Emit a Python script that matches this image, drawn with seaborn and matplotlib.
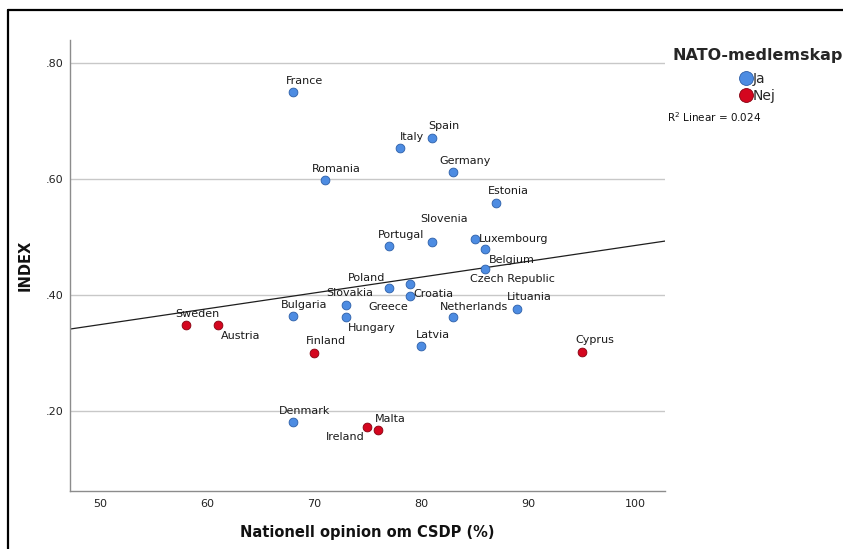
import matplotlib
matplotlib.use("Agg")
import matplotlib.pyplot as plt
from matplotlib.lines import Line2D
from matplotlib.ticker import FixedLocator, FuncFormatter
import numpy as np
import pandas as pd
import seaborn as sns

# Country values: public opinion on CSDP (%) and the index, by NATO membership
countries = ["France", "Italy", "Spain", "Germany", "Romania", "Estonia",
             "Slovenia", "Portugal", "Luxembourg", "Belgium", "Czech Republic",
             "Poland", "Greece", "Croatia", "Slovakia", "Hungary", "Netherlands",
             "Lituania", "Bulgaria", "Latvia", "Denmark",
             "Sweden", "Austria", "Finland", "Cyprus", "Ireland", "Malta"]
opinion = [68, 78, 81, 83, 71, 87,
           81, 77, 85, 86, 86,
           77, 79, 79, 73, 73, 83,
           89, 68, 80, 68,
           58, 61, 70, 95, 75, 76]
index_values = [0.750, 0.653, 0.671, 0.612, 0.598, 0.559,
                0.491, 0.484, 0.497, 0.479, 0.445,
                0.413, 0.419, 0.399, 0.382, 0.363, 0.363,
                0.376, 0.364, 0.312, 0.181,
                0.348, 0.348, 0.300, 0.301, 0.173, 0.167]
nato = ["Ja"] * 21 + ["Nej"] * 6

# Linear fit over all countries (intercept, slope) and its R²
fit_intercept = 0.2125
fit_slope = 0.00273
r2_label = "0.024"

x_ticks = [50, 60, 70, 80, 90, 100]
y_ticks = [0.20, 0.40, 0.60, 0.80]

df = pd.DataFrame({"country": countries, "opinion": opinion,
                   "INDEX": index_values, "NATO": nato})

# Label placement (pixels, right/down) relative to each point
default_offset = (12, -11)
label_offsets = {
    "Slovenia": (12.5, -23), "Luxembourg": (39, 0), "Belgium": (26.5, 11),
    "Czech Republic": (27, 10), "Poland": (-22, -10), "Greece": (-22, 23),
    "Croatia": (23, -2), "Slovakia": (4, -12), "Hungary": (26, 11),
    "Netherlands": (21, -10), "Austria": (22.5, 11), "Ireland": (-22.5, 10),
    "Spain": (12, -12), "Estonia": (12, -12), "Lituania": (12, -12),
    "Finland": (12, -12), "Cyprus": (13, -12),
}

palette = {"Ja": "#4d8ce2", "Nej": "#d4061f"}
edges = {"Ja": "#2c5ea8", "Nej": "#85000f"}

sns.set_style("white")
plt.rcParams["font.family"] = ["DejaVu Sans"]

W, H = 843, 549
fig = plt.figure(figsize=(W / 100, H / 100), dpi=100)
left, right, top, bottom = 70, 665, 40, 491
ax = fig.add_axes([left / W, 1 - bottom / H, (right - left) / W, (bottom - top) / H])

xlim = (47.2, 102.8)
ylim = (0.062, 0.840)

# Fit line across the whole plotting area
ax.axline((0, fit_intercept), slope=fit_slope, color="#1e1e1e", lw=0.9,
          zorder=2)

for grp in ["Ja", "Nej"]:
    sub = df[df["NATO"] == grp]
    sns.scatterplot(data=sub, x="opinion", y="INDEX", ax=ax, color=palette[grp],
                    edgecolor=edges[grp], linewidth=0.6, s=40, zorder=3,
                    legend=False)

for _, row in df.iterrows():
    dx, dy = label_offsets.get(row["country"], default_offset)
    ax.annotate(row["country"], (row["opinion"], row["INDEX"]),
                xytext=(dx, -dy), textcoords="offset pixels",
                ha="center", va="center", fontsize=8, color="#1a1a1a",
                zorder=4)

ax.set_xlim(*xlim)
ax.set_ylim(*ylim)

ax.xaxis.set_major_locator(FixedLocator(x_ticks))
ax.yaxis.set_major_locator(FixedLocator(y_ticks))
ax.yaxis.set_major_formatter(FuncFormatter(lambda v, p: f"{v:.2f}".lstrip("0")))
ax.tick_params(axis="both", length=0, labelsize=8, colors="#222222")
ax.tick_params(axis="x", pad=6)
ax.tick_params(axis="y", pad=5)

ax.yaxis.grid(True, color="#c8c8c8", lw=1)
ax.xaxis.grid(False)
ax.set_axisbelow(True)
for side in ["top", "right"]:
    ax.spines[side].set_visible(False)
for side in ["left", "bottom"]:
    ax.spines[side].set_color("#8c8c8c")
    ax.spines[side].set_linewidth(1)

ax.set_xlabel("Nationell opinion om CSDP (%)", fontsize=10.5,
              fontweight="bold", labelpad=11, color="#111111")
ax.set_ylabel("INDEX", fontsize=10.5, fontweight="bold", labelpad=9,
              color="#111111")

# Legend for NATO membership
handles = [Line2D([], [], marker="o", linestyle="", markersize=10,
                  markerfacecolor=palette[g], markeredgecolor=edges[g],
                  markeredgewidth=0.6) for g in ["Ja", "Nej"]]
leg = fig.legend(handles, ["Ja", "Nej"], title="NATO-medlemskap",
                 loc="upper left", bbox_to_anchor=(672 / W, 1 - 48 / H),
                 frameon=False, handletextpad=0.0, handlelength=1.0,
                 labelspacing=0.22, borderpad=0, borderaxespad=0,
                 fontsize=10, title_fontproperties={"weight": "bold", "size": 11.5})
leg._legend_box.sep = 6.5

fig.text(667 / W, 1 - 117 / H, "R$^2$ Linear = " + r2_label, fontsize=7.5,
         va="center", ha="left", color="#111111")

# Page frame
fig.add_artist(Line2D([8 / W, 8 / W], [0, 1 - 10 / H], color="black", lw=1.6,
                      transform=fig.transFigure))
fig.add_artist(Line2D([8 / W, 1], [1 - 10 / H, 1 - 10 / H], color="black",
                      lw=1.6, transform=fig.transFigure))

fig.savefig("out.png", dpi=100, facecolor="white")
